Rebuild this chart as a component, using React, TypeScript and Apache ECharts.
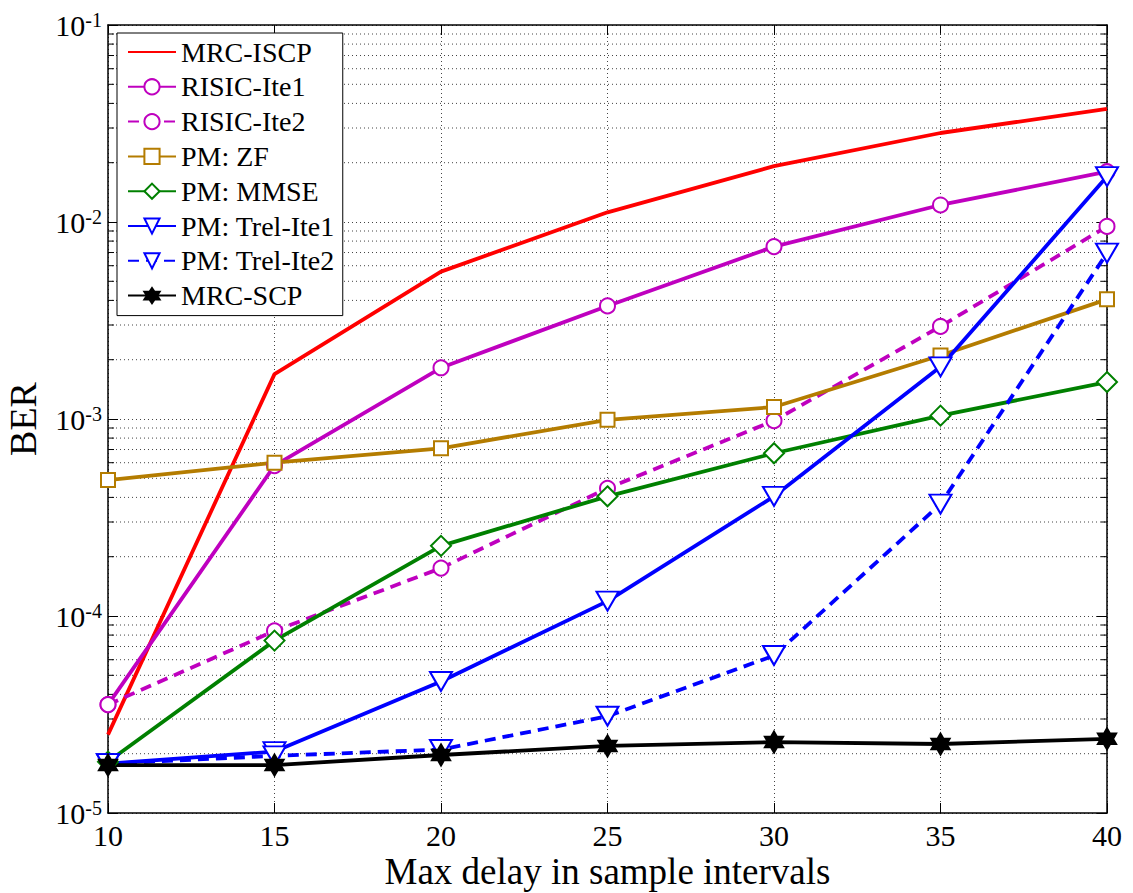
import React, { useEffect, useRef } from "react";
import * as echarts from "echarts";

const xs = [10, 15, 20, 25, 30, 35, 40];
const mrcIscp = [2.5e-5, 1.69e-3, 5.6e-3, 1.12e-2, 1.92e-2, 2.83e-2, 3.75e-2];
const risicIte1 = [3.55e-5, 5.8e-4, 1.82e-3, 3.75e-3, 7.5e-3, 1.22e-2, 1.8e-2];
const risicIte2 = [3.55e-5, 8.4e-5, 1.75e-4, 4.45e-4, 9.8e-4, 2.95e-3, 9.5e-3];
const pmZf = [4.9e-4, 6.0e-4, 7.1e-4, 9.9e-4, 1.15e-3, 2.1e-3, 4.05e-3];
const pmMmse = [1.82e-5, 7.5e-5, 2.27e-4, 4.05e-4, 6.7e-4, 1.04e-3, 1.54e-3];
const trelIte1 = [1.78e-5, 2.05e-5, 4.65e-5, 1.19e-4, 4.05e-4, 1.84e-3, 1.7e-2];
const trelIte2 = [1.78e-5, 1.95e-5, 2.1e-5, 3.1e-5, 6.3e-5, 3.7e-4, 6.95e-3];
const mrcScp = [1.75e-5, 1.75e-5, 1.97e-5, 2.19e-5, 2.29e-5, 2.24e-5, 2.38e-5];

const seriesNames = [
  "MRC-ISCP",
  "RISIC-Ite1",
  "RISIC-Ite2",
  "PM: ZF",
  "PM: MMSE",
  "PM: Trel-Ite1",
  "PM: Trel-Ite2",
  "MRC-SCP",
];
const decades = [-5, -4, -3, -2];
const minorMultipliers = [2, 3, 4, 5, 6, 7, 8, 9];

const FONT = "Liberation Serif";
const STAR =
  "path://M0,-10L2.89,-5L8.66,-5L5.77,0L8.66,5L2.89,5L0,10L-2.89,5L-8.66,5L-5.77,0L-8.66,-5L-2.89,-5Z";

const pairs = (vals: number[]) => xs.map((x, i) => [x, vals[i]]);

export default function App() {
  const ref = useRef<HTMLDivElement>(null);
  useEffect(() => {
    if (!ref.current) return;
    const chart = echarts.init(ref.current, null, { renderer: "svg" });
    const minorVals: number[][] = [];
    decades.forEach((d) =>
      minorMultipliers.forEach((m) => minorVals.push([10, m * Math.pow(10, d)]))
    );
    const LW = 3.8;
    const dash = [11, 7];
    const mk = (
      name: string,
      vals: number[],
      color: string,
      symbol: string,
      symbolSize: any,
      dashed: boolean,
      extra: any = {}
    ) => ({
      name,
      type: "line",
      data: pairs(vals),
      symbol,
      symbolSize,
      showSymbol: symbol !== "none",
      lineStyle: { color, width: LW, type: dashed ? dash : "solid" },
      itemStyle: { color, borderColor: color, borderWidth: 3 },
      emphasis: { disabled: true },
      z: 5,
      ...extra,
    });
    const option: any = {
      animation: false,
      backgroundColor: "#fff",
      textStyle: { fontFamily: FONT },
      grid: {
        left: 108,
        top: 25,
        right: 26,
        bottom: 80,
        containLabel: false,
        outerBoundsMode: "none",
      },
      legend: {
        data: seriesNames.map((n, i) =>
          i === 0
            ? { name: n, itemStyle: { opacity: 0, color: "rgba(0,0,0,0)", borderWidth: 0 } }
            : { name: n }
        ),
        orient: "vertical",
        left: 117,
        top: 33,
        padding: [5, 8, 6, 10],
        itemWidth: 48,
        itemHeight: 19,
        itemGap: 6.8,
        itemTextGap: 5,
        backgroundColor: "#fff",
        borderColor: "#000",
        borderWidth: 1,
        borderRadius: 0,
        selectedMode: false,
        textStyle: { fontFamily: FONT, fontSize: 28, color: "#000", lineHeight: 28 },
      },
      xAxis: [
        {
          type: "value",
          min: 10,
          max: 40,
          interval: 5,
          name: "Max delay in sample intervals",
          nameLocation: "middle",
          nameGap: 39,
          nameMoveOverlap: false,
          nameTextStyle: { fontFamily: FONT, fontSize: 37, color: "#000", lineHeight: 38 },
          axisLine: { show: true, onZero: false, lineStyle: { color: "#000", width: 1.5 } },
          axisTick: { show: true, inside: true, length: 10, lineStyle: { color: "#000", width: 1 } },
          axisLabel: { fontFamily: FONT, fontSize: 30, color: "#000", margin: 7, lineHeight: 30 },
          splitLine: { show: true, lineStyle: { color: "#444", width: 1, type: [1, 3] } },
        },
        {
          type: "value",
          position: "top",
          min: 10,
          max: 40,
          interval: 5,
          axisLine: { show: true, onZero: false, lineStyle: { color: "#000", width: 1.5 } },
          axisTick: { show: true, inside: true, length: 10, lineStyle: { color: "#000", width: 1 } },
          axisLabel: { show: false },
          splitLine: { show: false },
        },
      ],
      yAxis: [
        {
          type: "log",
          logBase: 10,
          min: 1e-5,
          max: 1e-1,
          name: "BER",
          nameLocation: "middle",
          nameGap: 66,
          nameMoveOverlap: false,
          nameTextStyle: { fontFamily: FONT, fontSize: 38, color: "#000" },
          axisLine: { show: true, onZero: false, lineStyle: { color: "#000", width: 1.5 } },
          axisTick: { show: true, inside: true, length: 10, lineStyle: { color: "#000", width: 1 } },
          axisLabel: {
            margin: 6,
            fontFamily: FONT,
            formatter: (v: number) => `{b|10}{s|${Math.round(Math.log10(v))}}`,
            rich: {
              b: { fontFamily: FONT, fontSize: 30, color: "#000", lineHeight: 30 },
              s: { fontFamily: FONT, fontSize: 20, color: "#000", lineHeight: 20, verticalAlign: "top" },
            },
          },
          splitLine: { show: true, lineStyle: { color: "#444", width: 1, type: [1, 3] } },
        },
        {
          type: "log",
          logBase: 10,
          min: 1e-5,
          max: 1e-1,
          position: "right",
          axisLine: { show: true, onZero: false, lineStyle: { color: "#000", width: 1.5 } },
          axisTick: { show: true, inside: true, length: 10, lineStyle: { color: "#000", width: 1 } },
          axisLabel: { show: false },
          splitLine: { show: false },
        },
      ],
      series: [
        {
          name: "minor",
          type: "custom",
          silent: true,
          z: 1,
          data: minorVals,
          renderItem: (params: any, api: any) => {
            const p = api.coord([api.value(0), api.value(1)]);
            const cs = params.coordSys;
            const y = p[1];
            return {
              type: "group",
              children: [
                {
                  type: "line",
                  shape: { x1: cs.x, y1: y, x2: cs.x + cs.width, y2: y },
                  style: { stroke: "#444", lineWidth: 1, lineDash: [1, 3] },
                },
                {
                  type: "line",
                  shape: { x1: cs.x, y1: y, x2: cs.x + 6, y2: y },
                  style: { stroke: "#000", lineWidth: 1 },
                },
                {
                  type: "line",
                  shape: { x1: cs.x + cs.width - 6, y1: y, x2: cs.x + cs.width, y2: y },
                  style: { stroke: "#000", lineWidth: 1 },
                },
              ],
            };
          },
        },
        mk(seriesNames[0], mrcIscp, "#ff0000", "none", 0, false),
        mk(seriesNames[1], risicIte1, "#bf00bf", "emptyCircle", 15, false),
        mk(seriesNames[2], risicIte2, "#bf00bf", "emptyCircle", 15, true),
        mk(seriesNames[3], pmZf, "#b47c00", "emptyRect", 14, false),
        mk(seriesNames[4], pmMmse, "#008000", "emptyDiamond", 20, false),
        mk(seriesNames[5], trelIte1, "#0000ff", "emptyTriangle", [22, 19], false, { symbolRotate: 180 }),
        mk(seriesNames[6], trelIte2, "#0000ff", "emptyTriangle", [22, 19], true, { symbolRotate: 180 }),
        mk(seriesNames[7], mrcScp, "#000000", STAR, 22, false, {
          symbolKeepAspect: true,
          itemStyle: { color: "#000", borderColor: "#000", borderWidth: 1.5 },
        }),
      ],
    };
    chart.setOption(option);
    return () => chart.dispose();
  }, []);
  return (
    <div
      ref={ref}
      style={{ position: "absolute", left: 0, top: 0, width: 1133, height: 893 }}
    />
  );
}
